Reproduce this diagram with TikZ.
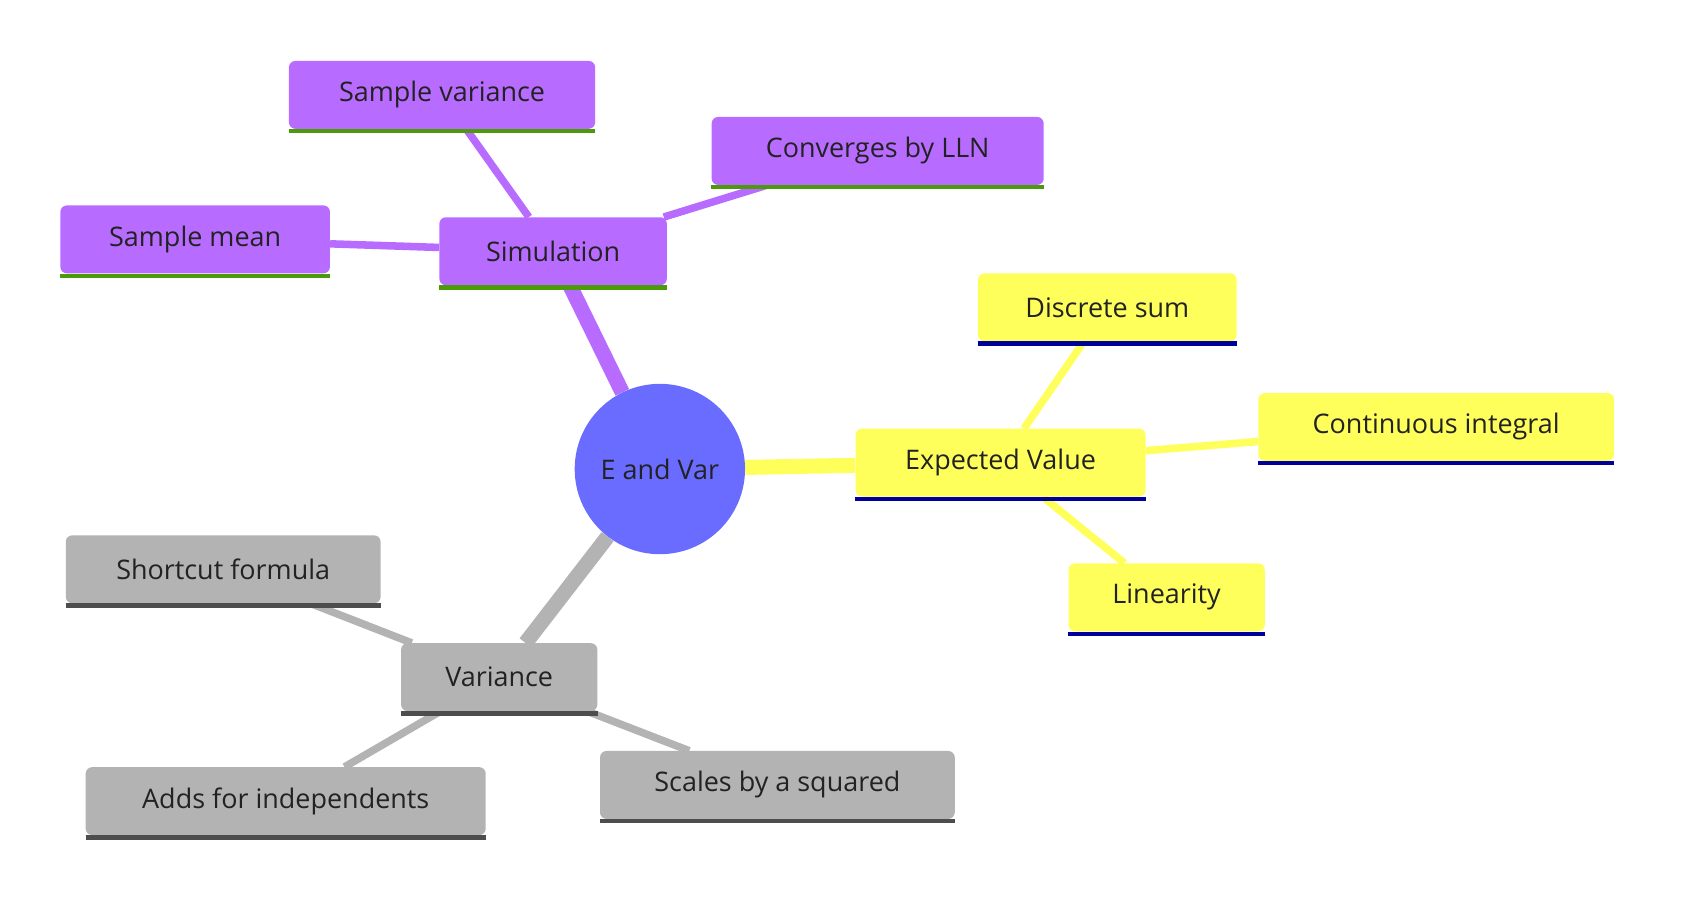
\documentclass[tikz,border=0pt]{standalone}
\usepackage{fontspec}
\setmainfont{Open Sans}
\usetikzlibrary{backgrounds}
\definecolor{pur}{HTML}{B86BFF}
\definecolor{purbar}{HTML}{4A9A0A}
\definecolor{yel}{HTML}{FFFF5C}
\definecolor{yelbar}{HTML}{00009A}
\definecolor{gry}{HTML}{B3B3B3}
\definecolor{grybar}{HTML}{4D4D4D}
\definecolor{rootc}{HTML}{6A6CFF}
\definecolor{txt}{HTML}{222222}
\begin{document}
\begin{tikzpicture}[x=1pt,y=-1pt,
  box/.style={rounded corners=6pt,minimum height=63pt,inner sep=0pt,text=txt,font=\fontsize{25}{28}\selectfont},
  pbox/.style={box,fill=pur}, ybox/.style={box,fill=yel}, gbox/.style={box,fill=gry},
  thick1/.style={line width=14pt}, thin1/.style={line width=7pt}]
\useasboundingbox (0,0) rectangle (1560,835);
\node[circle,fill=rootc,minimum size=158pt,text=txt,font=\fontsize{25}{28}\selectfont] (root) at (612,435) {E and Var};
\node[pbox,minimum width=284pt] (sv) at (410,88) {Sample variance};
\node[pbox,minimum width=308pt] (lln) at (814,140) {Converges by LLN};
\node[pbox,minimum width=250pt] (sm) at (181,222) {Sample mean};
\node[pbox,minimum width=211pt] (sim) at (513,233) {Simulation};
\node[ybox,minimum width=240pt] (ds) at (1027,285) {Discrete sum};
\node[ybox,minimum width=330pt] (ci) at (1332,396) {Continuous integral};
\node[ybox,minimum width=269pt] (ev) at (928,429) {Expected Value};
\node[ybox,minimum width=182pt] (lin) at (1082,554) {Linearity};
\node[gbox,minimum width=292pt] (sf) at (207,528) {Shortcut formula};
\node[gbox,minimum width=182pt] (var) at (463,628) {Variance};
\node[gbox,minimum width=329pt] (sc) at (721,728) {Scales by a squared};
\node[gbox,minimum width=371pt] (ad) at (265,743) {Adds for independents};
\begin{pgfonlayer}{background}
\draw[pur,thick1] (root) -- (sim);
\draw[yel,thick1] (root) -- (ev);
\draw[gry,thick1] (root) -- (var);
\draw[pur,thin1] (sim) -- (sv); \draw[pur,thin1] (sim) -- (lln); \draw[pur,thin1] (sim) -- (sm);
\draw[yel,thin1] (ev) -- (ds); \draw[yel,thin1] (ev) -- (ci); \draw[yel,thin1] (ev) -- (lin);
\draw[gry,thin1] (var) -- (sf); \draw[gry,thin1] (var) -- (sc); \draw[gry,thin1] (var) -- (ad);
\end{pgfonlayer}
\foreach \n in {sv,lln,sm,sim} \draw[purbar,line width=4pt] ([yshift=-2pt]\n.south west) -- ([yshift=-2pt]\n.south east);
\foreach \n in {ds,ci,ev,lin} \draw[yelbar,line width=4pt] ([yshift=-2pt]\n.south west) -- ([yshift=-2pt]\n.south east);
\foreach \n in {sf,var,sc,ad} \draw[grybar,line width=4pt] ([yshift=-2pt]\n.south west) -- ([yshift=-2pt]\n.south east);
\end{tikzpicture}
\end{document}
